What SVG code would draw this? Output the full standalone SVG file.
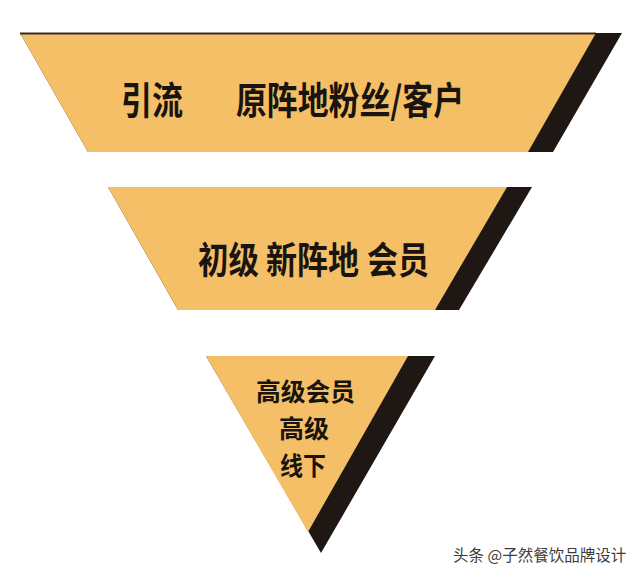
<svg xmlns="http://www.w3.org/2000/svg" width="640" height="584" viewBox="0 0 640 584">
  <style>
    .shade { fill: #1e1714; }
    .face { fill: #f4bf66; }
    .lbl { font-family: "Noto Sans CJK SC", "Noto Sans", sans-serif; font-weight: 700; fill: #1a1410; }
    .wm { font-family: "Noto Sans CJK SC", "Noto Sans", sans-serif; font-weight: 400; fill: #3c3c3c; font-size: 15.5px; }
  </style>
  <rect x="0" y="0" width="640" height="584" fill="#ffffff"/>
  <g id="level1">
    <polygon class="shade" points="20,33 622,33 553,152 88,152"/>
    <polygon class="face" points="20,33 596,33 528,152 88,152"/>
    <line x1="20" y1="33.5" x2="596" y2="33.5" stroke="#3b2a1e" stroke-width="2"/>
    <text class="lbl" x="121" y="114" font-size="38" textLength="62" lengthAdjust="spacingAndGlyphs">引流</text>
    <text class="lbl" x="236" y="114" font-size="38" textLength="228" lengthAdjust="spacingAndGlyphs">原阵地粉丝/客户</text>
  </g>
  <g id="level2">
    <polygon class="shade" points="108,187 532,187 459,310 178,310"/>
    <polygon class="face" points="108,187 507,187 435,310 178,310"/>
    <text class="lbl" font-size="37" transform="translate(198,274) scale(0.824,1)">初级</text>
    <text class="lbl" font-size="37" transform="translate(266,274) scale(0.838,1)">新阵地</text>
    <text class="lbl" font-size="37" transform="translate(367,274) scale(0.838,1)">会员</text>
  </g>
  <g id="level3">
    <polygon class="shade" points="206,356 435,356 321,553"/>
    <polygon class="face" points="206,356 408,356 308,532"/>
    <text class="lbl" x="256" y="401" font-size="25.5" textLength="99" lengthAdjust="spacingAndGlyphs">高级会员</text>
    <text class="lbl" x="279" y="438" font-size="25.5" textLength="50" lengthAdjust="spacingAndGlyphs">高级</text>
    <text class="lbl" x="280" y="475" font-size="25.5" textLength="46" lengthAdjust="spacingAndGlyphs">线下</text>
  </g>
  <g id="connectors"></g>
  <text class="wm" x="453" y="561">头条 @子然餐饮品牌设计</text>
</svg>
